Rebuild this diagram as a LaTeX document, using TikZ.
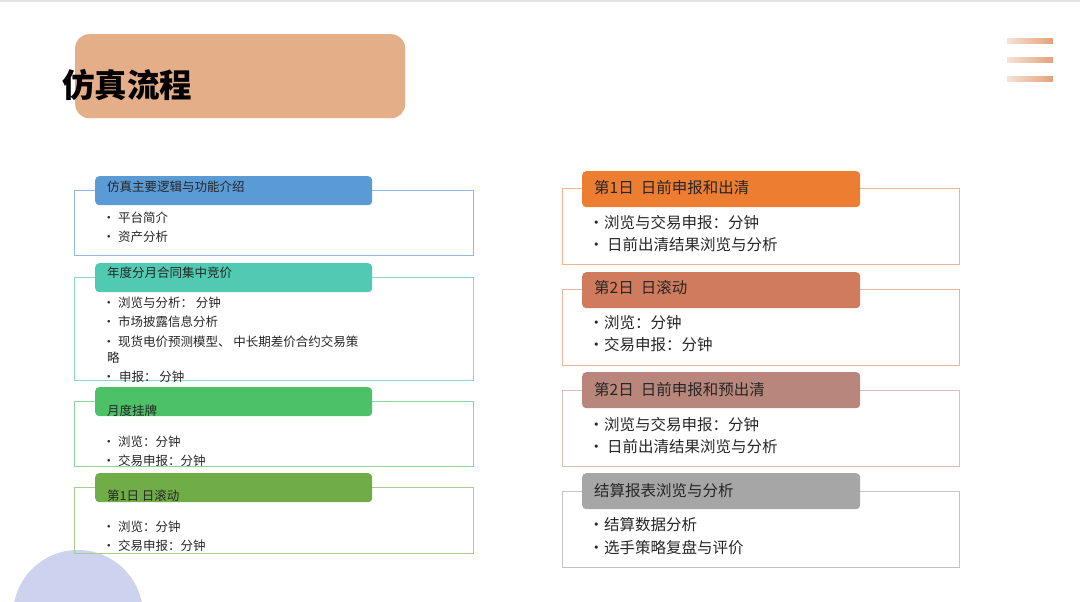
\documentclass[tikz,border=0pt]{standalone}
\usepackage{fontspec}
\setmainfont{Noto Sans CJK SC}
\usepackage{xcolor}
\definecolor{titlefill}{HTML}{E3AE88}
\definecolor{barlight}{HTML}{F7E2D4}
\definecolor{bardark}{HTML}{E2A27B}
\definecolor{dotfill}{HTML}{CDD3EE}
\definecolor{textgray}{HTML}{262626}
\definecolor{blueh}{HTML}{5B9BD5}
\definecolor{bluel}{HTML}{94B8E4}
\definecolor{tealh}{HTML}{50CAB3}
\definecolor{teall}{HTML}{86D9C7}
\definecolor{greenh}{HTML}{4CC167}
\definecolor{greenl}{HTML}{8CD79D}
\definecolor{oliveh}{HTML}{70AD47}
\definecolor{olivel}{HTML}{A8CD8F}
\definecolor{orangeh}{HTML}{ED7D31}
\definecolor{orangel}{HTML}{F3B58C}
\definecolor{salmonh}{HTML}{D07B5D}
\definecolor{salmonl}{HTML}{EAB5A2}
\definecolor{roseh}{HTML}{B9867C}
\definecolor{rosel}{HTML}{DDBDB6}
\definecolor{grayh}{HTML}{A6A6A6}
\definecolor{grayl}{HTML}{C4C4C4}
\usetikzlibrary{positioning}
\newcommand\bul[1][11pt]{\makebox[#1][l]{\kern-0.36em•}}

\begin{document}
\begin{tikzpicture}[x=1pt,y=-1pt,
  panel/.style={draw=#1, line width=1.1pt, anchor=north west, inner sep=0pt},
  lpanel/.style={panel=#1, minimum width=399pt},
  rpanel/.style={panel=#1, minimum width=397pt, minimum height=76pt},
  headbox/.style={fill=#1, rounded corners=4pt, anchor=north west, inner sep=0pt},
  lhead/.style={headbox=#1, minimum width=277pt, minimum height=29pt},
  rhead/.style={headbox=#1, minimum width=278pt, minimum height=36pt},
  ltext/.style={anchor=west, inner sep=0pt, text=textgray, font=\fontsize{12.5}{14}\selectfont},
  rtext/.style={anchor=west, inner sep=0pt, text=textgray, font=\fontsize{15.5}{18}\selectfont}]
\useasboundingbox (0,0) rectangle (1080,602);

% background decorations
\fill[gray!20] (0,0) rectangle (1080,2);
\fill[dotfill] (78,615) circle (65);
\foreach \y in {39,58,77}
  \shade[left color=barlight, right color=bardark] (1007,\y) rectangle (1053,\y+5);

% title
\node[fill=titlefill, rounded corners=14pt, anchor=north west, minimum width=330pt,
  minimum height=84pt] (titlebox) at (75,34) {};
\node[anchor=west, inner sep=0pt, font=\fontsize{32.5}{36}\selectfont\bfseries] (title) at (62,85) {仿真流程};

% left column
\node[lpanel=bluel, minimum height=65pt] (p1) at (74,190) {};
\node[lhead=blueh] (h1) at (95,176) {};
\node[ltext] (h1t) at (107,187) {仿真主要逻辑与功能介绍};
\node[ltext] (p1a) at (107,218) {\bul 平台简介};
\node[ltext] (p1b) at (107,237) {\bul 资产分析};

\node[lpanel=teall, minimum height=103pt] (p2) at (74,277) {};
\node[lhead=tealh] (h2) at (95,263) {};
\node[ltext] (h2t) at (107,273) {年度分月合同集中竞价};
\node[ltext] (p2a) at (107,303) {\bul 浏览与分析： 分钟};
\node[ltext] (p2b) at (107,322) {\bul 市场披露信息分析};
\node[ltext] (p2c) at (107,342) {\bul 现货电价预测模型、 中长期差价合约交易策};
\node[ltext] (p2d) at (107,358) {略};
\node[ltext] (p2e) at (107,377) {\bul[12pt]申报： 分钟};

\node[lpanel=greenl, minimum height=65pt] (p3) at (74,401) {};
\node[lhead=greenh] (h3) at (95,387) {};
\node[ltext] (h3t) at (107,411) {月度挂牌};
\node[ltext] (p3a) at (107,442) {\bul 浏览：分钟};
\node[ltext] (p3b) at (107,461) {\bul 交易申报：分钟};

\node[lpanel=olivel, minimum height=66pt] (p4) at (74,487) {};
\node[lhead=oliveh] (h4) at (95,473) {};
\node[ltext] (h4t) at (107,496) {第1日 日滚动};
\node[ltext] (p4a) at (107,527) {\bul 浏览：分钟};
\node[ltext] (p4b) at (107,546) {\bul 交易申报：分钟};

% right column
\node[rpanel=orangel] (q1) at (562,188) {};
\node[rhead=orangeh] (g1) at (582,171) {};
\node[rtext] (g1t) at (594,188) {第1日\ \ 日前申报和出清};
\node[rtext] (q1a) at (594,223) {\bul[10pt]浏览与交易申报：分钟};
\node[rtext] (q1b) at (594,245) {\bul[13pt]日前出清结果浏览与分析};

\node[rpanel=salmonl] (q2) at (562,289) {};
\node[rhead=salmonh] (g2) at (582,272) {};
\node[rtext] (g2t) at (594,288) {第2日\ \ 日滚动};
\node[rtext] (q2a) at (594,323) {\bul[10pt]浏览：分钟};
\node[rtext] (q2b) at (594,345) {\bul[10pt]交易申报：分钟};

\node[rpanel=rosel] (q3) at (562,390) {};
\node[rhead=roseh] (g3) at (582,372) {};
\node[rtext] (g3t) at (594,390) {第2日\ \ 日前申报和预出清};
\node[rtext] (q3a) at (594,425) {\bul[10pt]浏览与交易申报：分钟};
\node[rtext] (q3b) at (594,447) {\bul[13pt]日前出清结果浏览与分析};

\node[rpanel=grayl] (q4) at (562,491) {};
\node[rhead=grayh] (g4) at (582,473) {};
\node[rtext] (g4t) at (594,491) {结算报表浏览与分析};
\node[rtext] (q4a) at (594,525) {\bul[10pt]结算数据分析};
\node[rtext] (q4b) at (594,548) {\bul[10pt]选手策略复盘与评价};
\end{tikzpicture}
\end{document}
